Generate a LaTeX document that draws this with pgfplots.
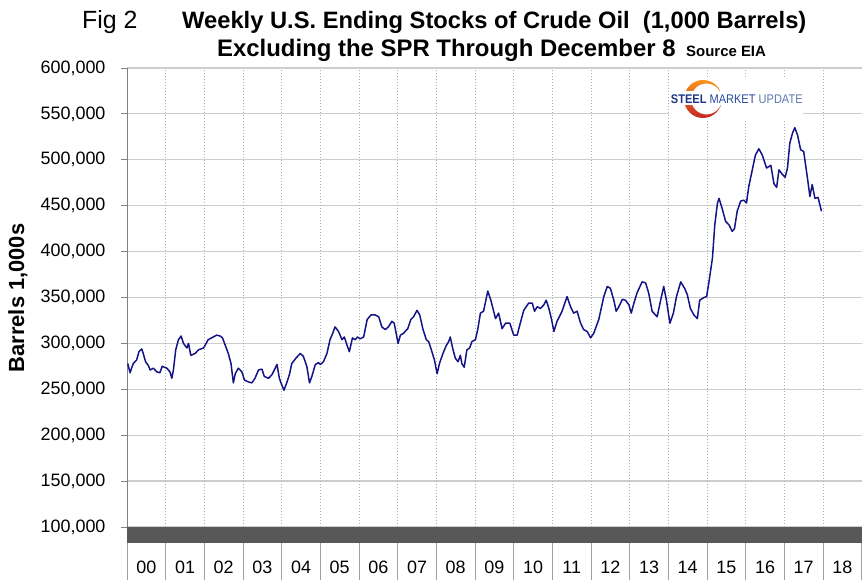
\documentclass[border=0pt]{standalone}
\usepackage{fontspec}
\setmainfont{Liberation Sans}
\newfontfamily\narrowfont[FakeStretch=0.88]{Liberation Sans}
\usepackage{pgfplots}
\usepackage{pgfplotstable}
\pgfplotsset{compat=1.18}
\definecolor{oil}{RGB}{20,20,135}
\definecolor{gridgray}{RGB}{205,205,205}
\definecolor{dotgray}{RGB}{175,175,175}
\definecolor{band}{RGB}{88,88,88}
\definecolor{sepgray}{RGB}{160,160,160}
\definecolor{smudark}{RGB}{28,55,130}
\definecolor{smumid}{RGB}{40,75,160}
\definecolor{smulight}{RGB}{95,120,175}
\definecolor{smuorange}{RGB}{247,148,30}
\definecolor{smured}{RGB}{200,40,35}

% weekly crude stocks ex SPR, thousand barrels (t = years since Jan 2000)
\pgfplotstableread{
t v
0.02 278
0.08 268
0.16 278
0.25 282
0.31 291
0.38 294
0.42 289
0.48 280
0.55 276
0.60 271
0.68 273
0.77 269
0.85 268
0.91 275
1.03 273
1.11 269
1.16 262
1.20 271
1.26 293
1.33 304
1.40 308
1.46 300
1.55 295
1.59 300
1.65 287
1.76 289
1.85 293
1.98 295
2.10 304
2.23 307
2.32 309
2.41 308
2.47 306
2.54 298
2.62 289
2.69 278
2.75 257
2.80 267
2.88 273
2.97 269
3.04 260
3.14 258
3.23 257
3.31 262
3.40 271
3.49 272
3.55 264
3.66 262
3.75 266
3.81 271
3.88 277
3.94 262
4.00 255
4.06 249
4.13 257
4.20 266
4.26 278
4.37 284
4.48 289
4.56 286
4.65 275
4.72 257
4.78 264
4.87 277
4.95 279
5.00 277
5.08 280
5.17 289
5.25 304
5.32 311
5.38 318
5.47 313
5.56 304
5.62 307
5.69 298
5.75 291
5.83 306
5.90 304
5.96 307
6.03 305
6.12 307
6.21 326
6.31 331
6.42 331
6.51 329
6.59 318
6.68 315
6.76 318
6.85 324
6.91 322
7.01 300
7.07 309
7.15 311
7.26 316
7.34 326
7.41 329
7.50 336
7.57 331
7.65 316
7.74 304
7.80 302
7.87 293
7.95 282
8.02 267
8.08 278
8.17 289
8.26 298
8.32 302
8.36 307
8.42 295
8.49 284
8.56 280
8.62 287
8.66 278
8.72 274
8.79 293
8.86 295
8.92 302
9.01 304
9.07 315
9.14 333
9.22 335
9.33 357
9.41 347
9.53 327
9.61 333
9.70 316
9.79 322
9.90 322
10.00 309
10.09 309
10.17 322
10.26 336
10.39 344
10.48 344
10.54 335
10.61 340
10.69 338
10.78 342
10.84 347
10.91 338
10.98 326
11.04 313
11.12 324
11.25 335
11.38 351
11.47 340
11.55 333
11.64 335
11.73 322
11.81 315
11.90 313
11.99 306
12.07 311
12.20 326
12.33 351
12.42 362
12.50 360
12.59 347
12.65 335
12.72 340
12.81 348
12.89 347
12.98 342
13.04 333
13.11 344
13.19 355
13.32 367
13.41 366
13.49 355
13.58 335
13.71 329
13.80 347
13.88 362
13.95 347
14.04 322
14.13 333
14.21 351
14.32 367
14.42 360
14.49 353
14.57 338
14.66 331
14.75 327
14.81 347
14.92 350
14.99 351
15.05 367
15.14 393
15.20 429
15.27 453
15.31 458
15.39 447
15.48 433
15.57 429
15.65 422
15.71 425
15.78 444
15.87 455
15.95 456
16.02 453
16.08 471
16.17 489
16.25 505
16.34 512
16.43 505
16.54 491
16.65 494
16.73 474
16.80 470
16.86 489
16.95 484
17.02 481
17.08 491
17.14 518
17.21 529
17.27 535
17.34 527
17.42 511
17.50 509
17.55 494
17.61 476
17.66 460
17.72 473
17.79 458
17.87 459
17.96 444
}\oiltable

\begin{document}
\begin{tikzpicture}[x=1bp,y=1bp]
\begin{axis}[
    at={(127bp,61bp)}, anchor=south west,
    width=734.7bp, height=459bp, scale only axis,
    xmin=0, xmax=19, ymin=100, ymax=600,
    clip=false,
    axis line style={draw=none},
    ytick={100,150,...,600},
    yticklabels={{100,000},{150,000},{200,000},{250,000},{300,000},{350,000},{400,000},{450,000},{500,000},{550,000},{600,000}},
    xtick={0.5,1.5,...,18.5},
    xticklabels={00,01,02,03,04,05,06,07,08,09,10,11,12,13,14,15,16,17,18},
    ytick pos=left, xtick pos=bottom,
    tick align=outside,
    major tick length=6bp,
    xtick style={draw=none},
    ytick style={draw=gray, line width=0.8bp},
    ymajorgrids=true,
    major grid style={draw=gridgray, line width=1.2bp},
    tick label style={font=\fontsize{18}{18}\selectfont},
    xticklabel style={anchor=base, yshift=-41bp},
    yticklabel style={xshift=-12bp},
]
\pgfplotsinvokeforeach{1,...,18}{
  \draw[dotgray, line width=0.8bp, dash pattern=on 1bp off 2bp] (axis cs:#1,100) -- (axis cs:#1,600);
}
\draw[gray, line width=1bp] (axis cs:0,100) -- (axis cs:0,600);
\addplot[oil, line width=1.5bp, line join=round] table[x=t, y=v] {\oiltable};
% dense weekly category band and year separators
\fill[band] (axis cs:0,100) rectangle ([yshift=-16bp]axis cs:19,100);
\pgfplotsinvokeforeach{0,...,19}{
  \draw[sepgray, line width=1bp] ([yshift=-16bp]axis cs:#1,100) -- ([yshift=-53bp]axis cs:#1,100);
}
\end{axis}

% titles
\node[anchor=base west, inner sep=0] at (82,559) {\fontsize{25}{25}\selectfont Fig 2};
\node[anchor=base west, inner sep=0] at (182,559) {\bfseries\fontsize{23.8}{24}\selectfont Weekly U.S. Ending Stocks of Crude Oil\ \ (1,000 Barrels)};
\node[anchor=base west, inner sep=0] at (217,531) {\bfseries\fontsize{24}{24}\selectfont Excluding the SPR Through December 8};
\node[anchor=base west, inner sep=0] at (686,531) {\bfseries\fontsize{15}{15}\selectfont Source EIA};
\node[rotate=90, inner sep=0] at (18,290) {\bfseries\fontsize{22}{22}\selectfont Barrels 1,000s};

% logo
\fill[white] (669,469) rectangle (803,511);
\path[top color=smuorange, bottom color=smured, even odd rule] (703,489) circle (19bp) (706.5,489) circle (15.5bp);
\fill[white] (669,483) rectangle (803,497);
\node[anchor=base west, inner sep=0] at (670.7,484.7) {\narrowfont\fontsize{12.6}{12.6}\selectfont\textcolor{smudark}{\bfseries STEEL} \textcolor{smumid}{MARKET} \textcolor{smulight}{UPDATE}};

\pgfresetboundingbox
\path[use as bounding box] (0,0) rectangle (867,588);
\end{tikzpicture}
\end{document}
